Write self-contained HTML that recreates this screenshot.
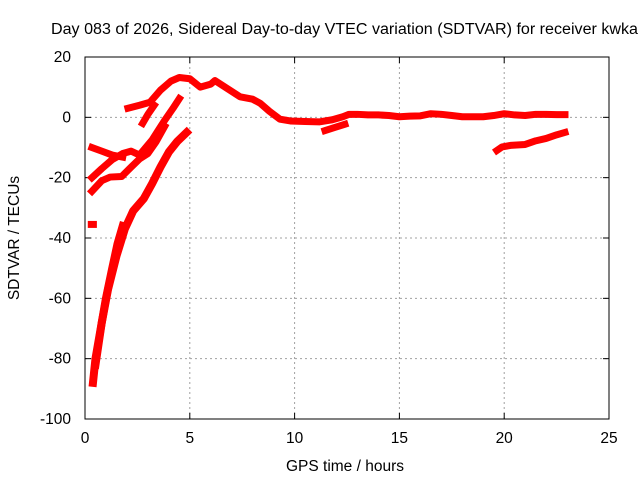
<!DOCTYPE html>
<html><head><meta charset="utf-8"><style>
body{margin:0;background:#fff;}
svg text{font-family:"Liberation Sans",sans-serif;font-size:15.5px;fill:#000;}
</style></head><body>
<svg id="chart" width="640" height="480">
<text x="51" y="34" textLength="587" lengthAdjust="spacingAndGlyphs">Day 083 of 2026, Sidereal Day-to-day VTEC variation (SDTVAR) for receiver kwka</text>
<text x="345" y="471" text-anchor="middle">GPS time / hours</text>
<text transform="translate(19,238) rotate(-90)" text-anchor="middle">SDTVAR / TECUs</text>
<g id="grid"></g><g id="ticks"></g><g id="series"></g>
<rect x="85" y="57" width="524" height="362" fill="none" stroke="#000" stroke-width="1"/>
</svg>
<script>
const xTicks=[0,5,10,15,20,25];
const yTicks=[20,0,-20,-40,-60,-80,-100];
const seriesMain=[[2.05,3],[2.6,4],[3.1,5],[3.6,9],[4.1,12],[4.5,13.2],[5.0,12.8],[5.5,10],[6.0,11],[6.2,12.2],[6.8,9.5],[7.4,6.8],[8.0,6],[8.35,4.7],[8.8,2],[9.3,-0.6],[9.8,-1.2],[10.5,-1.4],[11.2,-1.5],[11.8,-0.8],[12.3,0.2],[12.6,1],[13,1],[13.5,0.8],[14,0.8],[14.5,0.6],[15,0.2],[15.5,0.4],[16,0.5],[16.5,1.2],[17,1],[17.5,0.6],[18,0.2],[18.5,0.2],[19,0.2],[19.5,0.6],[20,1.2],[20.5,0.8],[21,0.6],[21.5,1],[22,1],[22.5,0.9],[22.9,0.9]];
const seriesB=[[2.75,-2],[3.0,1],[3.3,4]];
const seriesC=[[0.33,-10],[0.8,-11.2],[1.3,-12.5],[1.8,-13.2]];
const seriesM=[[0.33,-20],[0.8,-17],[1.3,-14],[1.8,-12],[2.2,-11.2],[2.6,-12.5],[3.2,-7.5],[3.8,-1],[4.2,3],[4.5,6.2]];
const seriesL=[[0.33,-24.5],[0.8,-21],[1.2,-19.8],[1.75,-19.6],[2.2,-16.5],[2.6,-13.8],[3.0,-12],[3.4,-8],[3.8,-3]];
const seriesSteep=[[0.38,-88],[0.5,-80],[0.7,-72],[1.0,-60],[1.3,-50],[1.55,-42],[1.8,-36]];
const seriesSteep2=[[0.5,-82],[0.8,-68],[1.1,-57],[1.5,-46],[1.9,-37],[2.3,-31],[2.8,-27],[3.2,-22],[3.6,-16.5],[4.0,-11.5],[4.4,-8],[4.85,-5]];
const seriesDot=[[0.3,-35.5],[0.4,-35.5]];
const seriesSeg2=[[11.45,-4.4],[11.9,-3.4],[12.4,-2.3]];
const seriesSeg3=[[19.65,-11],[19.9,-9.8],[20.3,-9.3],[21.0,-9],[21.5,-7.8],[22.0,-7],[22.5,-5.8],[22.9,-5]];
const allSeries=[seriesMain,seriesB,seriesC,seriesM,seriesL,seriesSteep,seriesSteep2,seriesDot,seriesSeg2,seriesSeg3];
const X0=85,X1=609,Y0=419,Y1=57;
const xs=v=>X0+(v-0)/(25-0)*(X1-X0);
const ys=v=>Y0-(v+100)/120*(Y0-Y1);
const NS="http://www.w3.org/2000/svg";
const grid=document.getElementById('grid'),ticks=document.getElementById('ticks'),ser=document.getElementById('series');
function mk(t,a){const e=document.createElementNS(NS,t);for(const k in a)e.setAttribute(k,a[k]);return e;}
xTicks.forEach(v=>{const x=xs(v);
 if(v>0&&v<25){const g=mk('line',{x1:x,x2:x,y1:Y1,y2:Y0,stroke:'#a0a0a0','stroke-dasharray':'2,3'});
 
 grid.appendChild(g);}
 const t=mk('line',{x1:x,x2:x,y1:Y0,y2:Y0-6,stroke:'#000'});ticks.appendChild(t);
 const t2=mk('line',{x1:x,x2:x,y1:Y1,y2:Y1+6,stroke:'#000'});ticks.appendChild(t2);
 const l=mk('text',{x:x,y:Y0+24,'text-anchor':'middle'});l.textContent=v;
 
 ticks.appendChild(l);});
yTicks.forEach(v=>{const y=ys(v);
 if(v>-100&&v<20){const g=mk('line',{x1:X0,x2:X1,y1:y,y2:y,stroke:'#a0a0a0','stroke-dasharray':'2,3'});
 
 grid.appendChild(g);}
 const t=mk('line',{x1:X0,x2:X0+6,y1:y,y2:y,stroke:'#000'});ticks.appendChild(t);
 const t2=mk('line',{x1:X1,x2:X1-6,y1:y,y2:y,stroke:'#000'});ticks.appendChild(t2);
 const l=mk('text',{x:X0-14,y:y+5,'text-anchor':'end'});l.textContent=v;
 
 ticks.appendChild(l);});
allSeries.forEach((s,i)=>{const p=mk('polyline',{points:s.map(d=>xs(d[0])+','+ys(d[1])).join(' '),fill:'none',stroke:'#ff0000','stroke-width':i===5||i===6?8:7,'stroke-linejoin':'round','stroke-linecap':'square'});
 
 ser.appendChild(p);});
</script>
</body></html>
